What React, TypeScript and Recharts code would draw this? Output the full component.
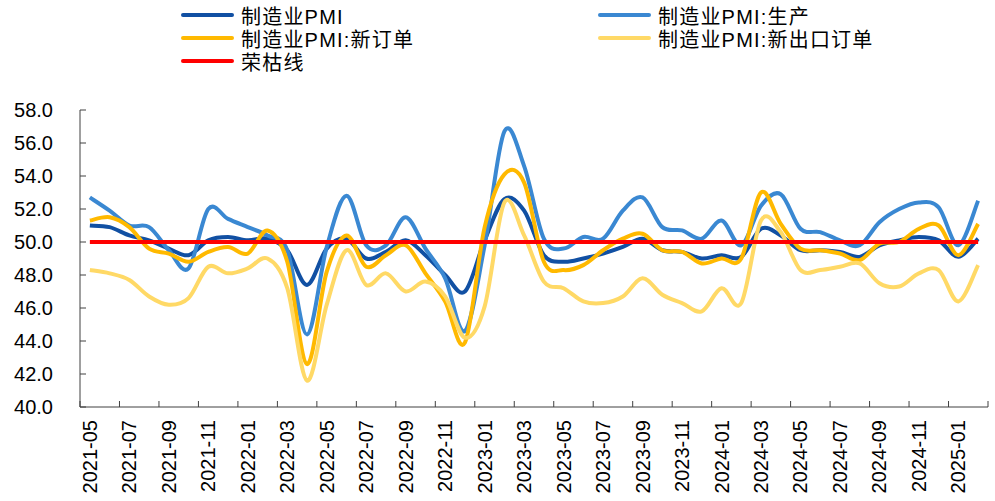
import { LineChart, Line, XAxis, YAxis } from 'recharts'

const months = [
  '2021-05', '2021-06', '2021-07', '2021-08', '2021-09', '2021-10', '2021-11', '2021-12',
  '2022-01', '2022-02', '2022-03', '2022-04', '2022-05', '2022-06', '2022-07', '2022-08',
  '2022-09', '2022-10', '2022-11', '2022-12', '2023-01', '2023-02', '2023-03', '2023-04',
  '2023-05', '2023-06', '2023-07', '2023-08', '2023-09', '2023-10', '2023-11', '2023-12',
  '2024-01', '2024-02', '2024-03', '2024-04', '2024-05', '2024-06', '2024-07', '2024-08',
  '2024-09', '2024-10', '2024-11', '2024-12', '2025-01', '2025-02',
]

// 制造业PMI
const pmi = [
  51.0, 50.9, 50.4, 50.1, 49.6, 49.2, 50.1, 50.3,
  50.1, 50.2, 49.5, 47.4, 49.6, 50.2, 49.0, 49.4, 50.1, 49.2, 48.0, 47.0,
  50.1, 52.6, 51.9, 49.2, 48.8, 49.0, 49.3, 49.7, 50.2, 49.5, 49.4, 49.0,
  49.2, 49.1, 50.8, 50.4, 49.5, 49.5, 49.4, 49.1, 49.8, 50.1, 50.3, 50.1,
  49.1, 50.2,
]

// 制造业PMI:生产
const production = [
  52.7, 51.9, 51.0, 50.9, 49.5, 48.4, 52.0, 51.4,
  50.9, 50.4, 49.5, 44.4, 49.7, 52.8, 49.8, 49.8, 51.5, 49.6, 47.8, 44.6,
  49.8, 56.7, 54.6, 50.2, 49.6, 50.3, 50.2, 51.9, 52.7, 50.9, 50.7, 50.2,
  51.3, 49.8, 52.2, 52.9, 50.8, 50.6, 50.1, 49.8, 51.2, 52.0, 52.4, 52.1,
  49.8, 52.5,
]

// 制造业PMI:新订单
const newOrders = [
  51.3, 51.5, 50.9, 49.6, 49.3, 48.8, 49.4, 49.7,
  49.3, 50.7, 48.8, 42.6, 48.2, 50.4, 48.5, 49.2, 49.8, 48.1, 46.4, 43.9,
  50.9, 54.1, 53.6, 48.8, 48.3, 48.6, 49.5, 50.2, 50.5, 49.5, 49.4, 48.7,
  49.0, 49.0, 53.0, 51.1, 49.6, 49.5, 49.3, 48.9, 49.9, 50.0, 50.8, 51.0,
  49.2, 51.1,
]

// 制造业PMI:新出口订单
const exportOrders = [
  48.3, 48.1, 47.7, 46.7, 46.2, 46.6, 48.5, 48.1,
  48.4, 49.0, 47.2, 41.6, 46.2, 49.5, 47.4, 48.1, 47.0, 47.6, 46.7, 44.2,
  46.1, 52.4, 50.4, 47.6, 47.2, 46.4, 46.3, 46.7, 47.8, 46.8, 46.3, 45.8,
  47.2, 46.3, 51.3, 50.6, 48.3, 48.3, 48.5, 48.7, 47.5, 47.3, 48.1, 48.3,
  46.4, 48.6,
]

// 荣枯线
const THRESHOLD = 50

const yTicks = [40, 42, 44, 46, 48, 50, 52, 54, 56, 58]

const data = months.map((month, i) => ({
  i,
  month,
  pmi: pmi[i],
  production: production[i],
  newOrders: newOrders[i],
  exportOrders: exportOrders[i],
  threshold: THRESHOLD,
}))

// tick marks sit between categories, labels on every second category
const xTicks: number[] = []
for (let k = 0; k < months.length; k += 2) xTicks.push(k - 0.5, k)
xTicks.push(months.length - 0.5)

const FONT = '"Liberation Sans", Arial, "Noto Sans CJK SC", sans-serif'
const AXIS = '#404040'

// smoothed line similar to Excel's (Catmull-Rom through the points)
const smoothCurve = (context: any) => {
  let pts: number[][] = []
  return {
    areaStart() {},
    areaEnd() {},
    lineStart() {
      pts = []
    },
    point(x: number, y: number) {
      pts.push([+x, +y])
    },
    lineEnd() {
      if (!pts.length) return
      context.moveTo(pts[0][0], pts[0][1])
      for (let i = 0; i < pts.length - 1; i++) {
        const p0 = pts[i - 1] || pts[i]
        const p1 = pts[i]
        const p2 = pts[i + 1]
        const p3 = pts[i + 2] || p2
        const t = 1 / 6
        context.bezierCurveTo(
          p1[0] + (p2[0] - p0[0]) * t,
          p1[1] + (p2[1] - p0[1]) * t,
          p2[0] - (p3[0] - p1[0]) * t,
          p2[1] - (p3[1] - p1[1]) * t,
          p2[0],
          p2[1],
        )
      }
    },
  }
}

const series = [
  { key: 'pmi', name: '制造业PMI', color: '#1150A3' },
  { key: 'production', name: '制造业PMI:生产', color: '#3A88D2' },
  { key: 'newOrders', name: '制造业PMI:新订单', color: '#FFB900' },
  { key: 'exportOrders', name: '制造业PMI:新出口订单', color: '#FFD966' },
  { key: 'threshold', name: '荣枯线', color: '#FF0000' },
]

const legendPos = [
  { left: 181, top: 15 },
  { left: 598, top: 15 },
  { left: 181, top: 38 },
  { left: 598, top: 38 },
  { left: 181, top: 61 },
]

const XTick = ({ x, y, payload }: any) => {
  const v = payload.value
  if (!Number.isInteger(v)) {
    return <line x1={x} x2={x} y1={y} y2={y - 6} stroke={AXIS} />
  }
  const ty = y + 13
  return (
    <text
      x={x}
      y={ty}
      transform={`rotate(-90, ${x}, ${ty})`}
      textAnchor="end"
      dominantBaseline="central"
      fontSize={20}
      fontFamily={FONT}
      fill="#000"
    >
      {months[v]}
    </text>
  )
}

const YTick = ({ x, y, payload }: any) => (
  <g>
    <line x1={x} x2={x + 6} y1={y} y2={y} stroke={AXIS} />
    <text x={x - 27} y={y} textAnchor="end" dominantBaseline="central" fontSize={20} fontFamily={FONT} fill="#000">
      {payload.value.toFixed(1)}
    </text>
  </g>
)

export default function App() {
  return (
    <div style={{ position: 'absolute', left: 0, top: 0, width: 995, height: 501, background: '#fff', fontFamily: FONT }}>
      <LineChart width={995} height={501} data={data} margin={{ top: 110, right: 7, left: 0, bottom: 0 }}>
        <XAxis
          dataKey="i"
          type="number"
          domain={[-0.5, months.length - 0.5]}
          ticks={xTicks}
          interval={0}
          tick={<XTick />}
          tickLine={false}
          tickSize={0}
          tickMargin={0}
          height={94}
          axisLine={{ stroke: AXIS }}
        />
        <YAxis
          domain={[40, 58]}
          ticks={yTicks}
          interval={0}
          tick={<YTick />}
          tickLine={false}
          tickSize={0}
          tickMargin={0}
          width={80}
          axisLine={{ stroke: AXIS }}
        />
        {series.map((s) => (
          <Line
            key={s.key}
            dataKey={s.key}
            name={s.name}
            type={smoothCurve as any}
            stroke={s.color}
            strokeWidth={4}
            dot={false}
            activeDot={false}
            isAnimationActive={false}
          />
        ))}
      </LineChart>
      {series.map((s, i) => (
        <div
          key={s.key}
          style={{
            position: 'absolute',
            left: legendPos[i].left,
            top: legendPos[i].top - 12,
            height: 24,
            display: 'flex',
            alignItems: 'center',
          }}
        >
          <div style={{ width: 53, height: 4, background: s.color, borderRadius: 2 }} />
          <span style={{ marginLeft: 7, fontSize: 20, letterSpacing: 1.2, color: '#000', whiteSpace: 'nowrap' }}>{s.name}</span>
        </div>
      ))}
    </div>
  )
}
